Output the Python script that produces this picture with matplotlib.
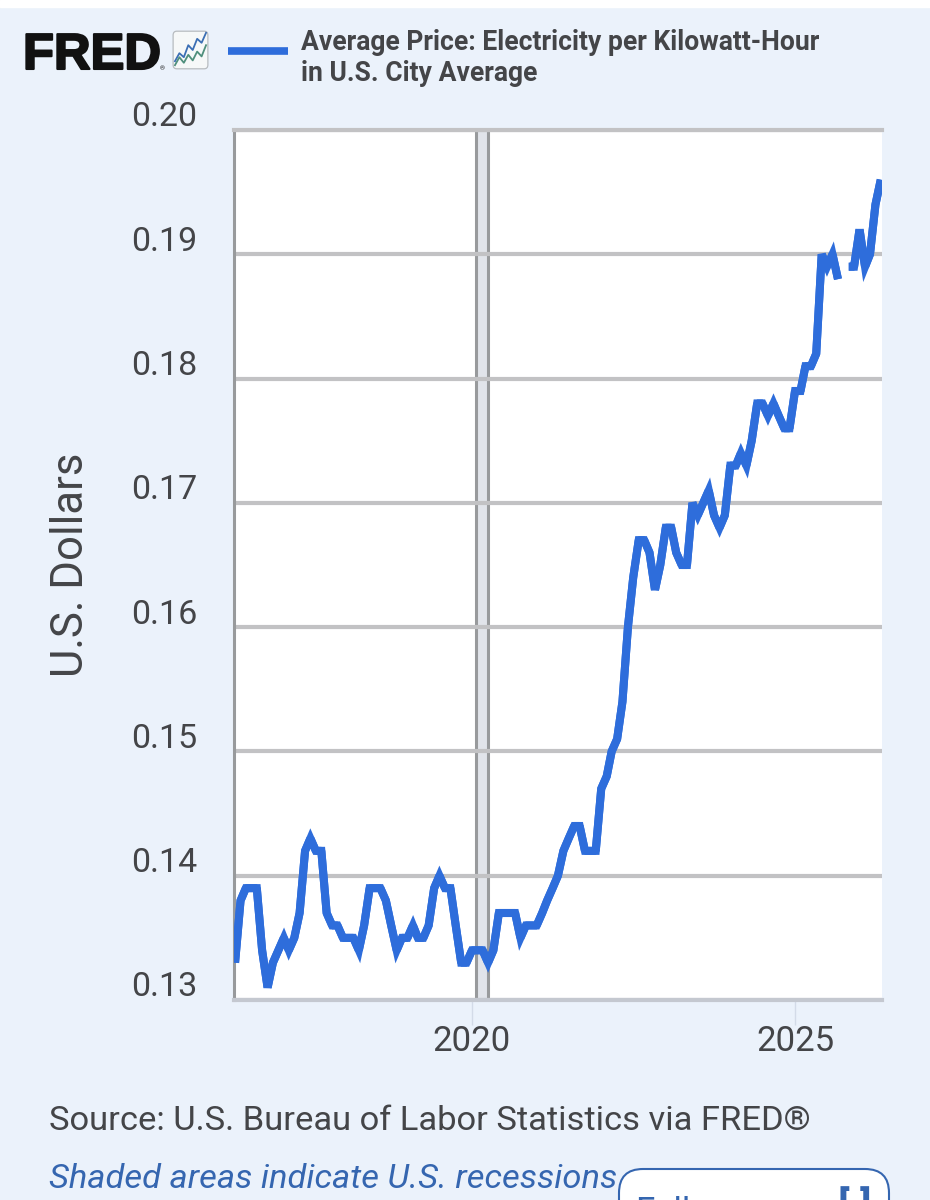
import matplotlib
matplotlib.use("Agg")
import matplotlib.pyplot as plt
import matplotlib.patheffects as pe
from matplotlib.patches import FancyBboxPatch, Rectangle
from matplotlib.transforms import ScaledTranslation
import numpy as np
import pandas as pd

plt.rcParams["font.family"] = ["Roboto", "DejaVu Sans"]

# monthly price, starts May 2016. Oct 2025 has no data
prices = [
    0.133, 0.138, 0.139, 0.139, 0.139, 0.134, 0.131,
    0.133, 0.134, 0.135, 0.134, 0.135, 0.137, 0.142, 0.143,
    0.142, 0.142, 0.137, 0.136, 0.136, 0.135, 0.135, 0.135,
    0.134, 0.136, 0.139, 0.139, 0.139, 0.138, 0.136, 0.134,
    0.135, 0.135, 0.136, 0.135, 0.135, 0.136, 0.139, 0.140,
    0.139, 0.139, 0.136, 0.133, 0.133, 0.134, 0.134, 0.134,
    0.133, 0.134, 0.137, 0.137, 0.137, 0.137, 0.135, 0.136,
    0.136, 0.136, 0.137, 0.138, 0.139, 0.140, 0.142, 0.143,
    0.144, 0.144, 0.142, 0.142, 0.142, 0.147, 0.148, 0.150,
    0.151, 0.154, 0.160, 0.164, 0.167, 0.167, 0.166, 0.163,
    0.165, 0.168, 0.168, 0.166, 0.165, 0.165, 0.170, 0.169,
    0.170, 0.171, 0.169, 0.168, 0.169, 0.173, 0.173, 0.174,
    0.173, 0.175, 0.178, 0.178, 0.177, 0.178, 0.177, 0.176,
    0.176, 0.179, 0.179, 0.181, 0.181, 0.182, 0.190, 0.189,
    0.190, 0.188, np.nan, 0.189, 0.189, 0.192, 0.189, 0.190,
    0.194, 0.196,
]
dates = pd.date_range("2016-05-01", periods=len(prices), freq="MS")

y_ticks = [0.13, 0.14, 0.15, 0.16, 0.17, 0.18, 0.19, 0.20]
y_labels = ["0.13", "0.14", "0.15", "0.16", "0.17", "0.18", "0.19", "0.20"]
x_ticks = pd.to_datetime(["2020-01-01", "2025-01-01"])
x_labels = ["2020", "2025"]
recession = pd.to_datetime(["2020-01-25", "2020-04-01"])

# small logo lines, only decoration
logo_blue = [0.22, 0.42, 0.32, 0.62, 0.5, 0.78, 0.68, 0.93]
logo_green = [0.12, 0.32, 0.18, 0.38, 0.24, 0.46, 0.34, 0.62]

BG = "#ebf2fb"
TEXT = "#444548"
LINE = "#2e6ddb"
GRID = "#c2c2c4"

W, H = 930, 1200


def px(x, y):
    return x / W, 1 - y / H


def sharp_points(ax, dates, values):
    # the svg in the original has a miter limit of 4, so very sharp turns get cut flat
    pts = ax.transData.transform(np.column_stack([matplotlib.dates.date2num(dates), values]))
    found = []
    for i in range(1, len(pts) - 1):
        a = pts[i - 1] - pts[i]
        b = pts[i + 1] - pts[i]
        if np.isnan(a).any() or np.isnan(b).any():
            continue
        cos = np.dot(a, b) / (np.linalg.norm(a) * np.linalg.norm(b))
        if np.degrees(np.arccos(np.clip(cos, -1, 1))) < 29:
            found.append(i)
    return found


fig = plt.figure(figsize=(9.3, 12), dpi=100, facecolor=BG)
fig.add_artist(Rectangle((0, 1 - 7 / H), 1, 7 / H, transform=fig.transFigure, color="white", zorder=0))

ax = fig.add_axes([234 / W, 200 / H, 648 / W, 870 / H], facecolor="white")
ax.set_xlim(pd.Timestamp("2016-04-25"), pd.Timestamp("2026-05-08"))
ax.set_ylim(0.13, 0.20)

ax.axvspan(recession[0], recession[1], facecolor="#e1e4ea", edgecolor="none", zorder=1)
for d in recession:
    ax.axvline(d, color="#989a9c", lw=2.2, zorder=1.2)
ax.yaxis.grid(True, color=GRID, lw=3, zorder=1.5)
ax.xaxis.grid(False)

# whole line bevelled, then mitered runs on top that stop at the sharp turns
ax.plot(dates, prices, color=LINE, lw=5.8, solid_joinstyle="bevel", solid_capstyle="butt", zorder=3)
cuts = [0] + sharp_points(ax, dates, prices) + [len(prices) - 1]
for start, end in zip(cuts[:-1], cuts[1:]):
    ax.plot(dates[start:end + 1], prices[start:end + 1], color=LINE, lw=5.8,
            solid_joinstyle="miter", solid_capstyle="butt", zorder=3)

ax.spines["right"].set_visible(False)
ax.spines["top"].set_color(GRID)
ax.spines["top"].set_linewidth(3)
ax.spines["left"].set_color("#989a9c")
ax.spines["left"].set_linewidth(2.2)
ax.spines["bottom"].set_color("#c4c8d0")
ax.spines["bottom"].set_linewidth(3)

ax.set_yticks(y_ticks)
ax.set_yticklabels(y_labels)
ax.tick_params(axis="y", length=0, pad=26.5, labelsize=24.5, labelcolor=TEXT)
# FRED puts the labels above the grid lines
shift = ScaledTranslation(0, 16 / 100, fig.dpi_scale_trans)
for lab in ax.get_yticklabels():
    lab.set_transform(lab.get_transform() + shift)

ax.set_xticks(x_ticks)
ax.set_xticklabels(x_labels)
ax.tick_params(axis="x", length=18, width=1, color="#d3dbe8", pad=0, labelsize=25, labelcolor=TEXT)

fig.text(*px(71, 565), "U.S. Dollars", rotation=90, ha="center", va="center", fontsize=31.5, color=TEXT)

# header
fig.text(*px(23, 69), "FRED", fontsize=36.5, fontweight="bold", family="Liberation Sans", color="#111111",
         ha="left", va="baseline", path_effects=[pe.withStroke(linewidth=1.5, foreground="#111111")])
fig.text(*px(160, 70), "®", fontsize=4.5, color="#111111", ha="left", va="baseline")

icon = fig.add_axes([172 / W, 1 - 70 / H, 37 / W, 40 / H], facecolor="none")
icon.set_xlim(0, 1)
icon.set_ylim(0, 1)
icon.axis("off")
icon.add_patch(FancyBboxPatch((0.03, 0.03), 0.94, 0.94, boxstyle="round,pad=0,rounding_size=0.1",
                              facecolor="#f6f8f8", edgecolor="#b8bcc0", lw=0.9))
icon.plot(np.linspace(0.08, 0.92, len(logo_blue)), logo_blue, color="#3c6fb4", lw=1.3)
icon.plot(np.linspace(0.08, 0.92, len(logo_green)), logo_green, color="#4f8f7c", lw=1.3)

fig.add_artist(plt.Line2D([228 / W, 288 / W], [1 - 51 / H] * 2, color=LINE, lw=5.5, solid_capstyle="butt"))
fig.text(*px(301, 50), "Average Price: Electricity per Kilowatt-Hour", fontsize=19.1, fontweight="bold",
         color=TEXT, ha="left", va="baseline")
fig.text(*px(301, 81), "in U.S. City Average", fontsize=19.1, fontweight="bold",
         color=TEXT, ha="left", va="baseline")

# footer
fig.text(*px(49, 1130), "Source: U.S. Bureau of Labor Statistics via FRED®", fontsize=24.8, color=TEXT,
         ha="left", va="baseline")
fig.text(*px(49, 1188), "Shaded areas indicate U.S. recessions", fontsize=24.8, style="italic", color="#3566b0",
         ha="left", va="baseline")

btn = fig.add_axes([615 / W, 0, 280 / W, 34 / H], facecolor="none")
btn.set_xlim(615, 895)
btn.set_ylim(1200, 1166)
btn.axis("off")
btn.add_patch(FancyBboxPatch((619, 1169), 270, 60, boxstyle="round,pad=0,rounding_size=24",
                             facecolor="white", edgecolor="#3566b0", lw=1.5))
btn.text(635, 1222, "Fullscreen", fontsize=25, color="#3566b0", ha="left", va="baseline", clip_on=True)
btn.text(838, 1222, "[ ]", fontsize=30, fontweight="bold", color="#3566b0", ha="left", va="baseline", clip_on=True)

fig.savefig("out.png", dpi=100, facecolor=BG)
